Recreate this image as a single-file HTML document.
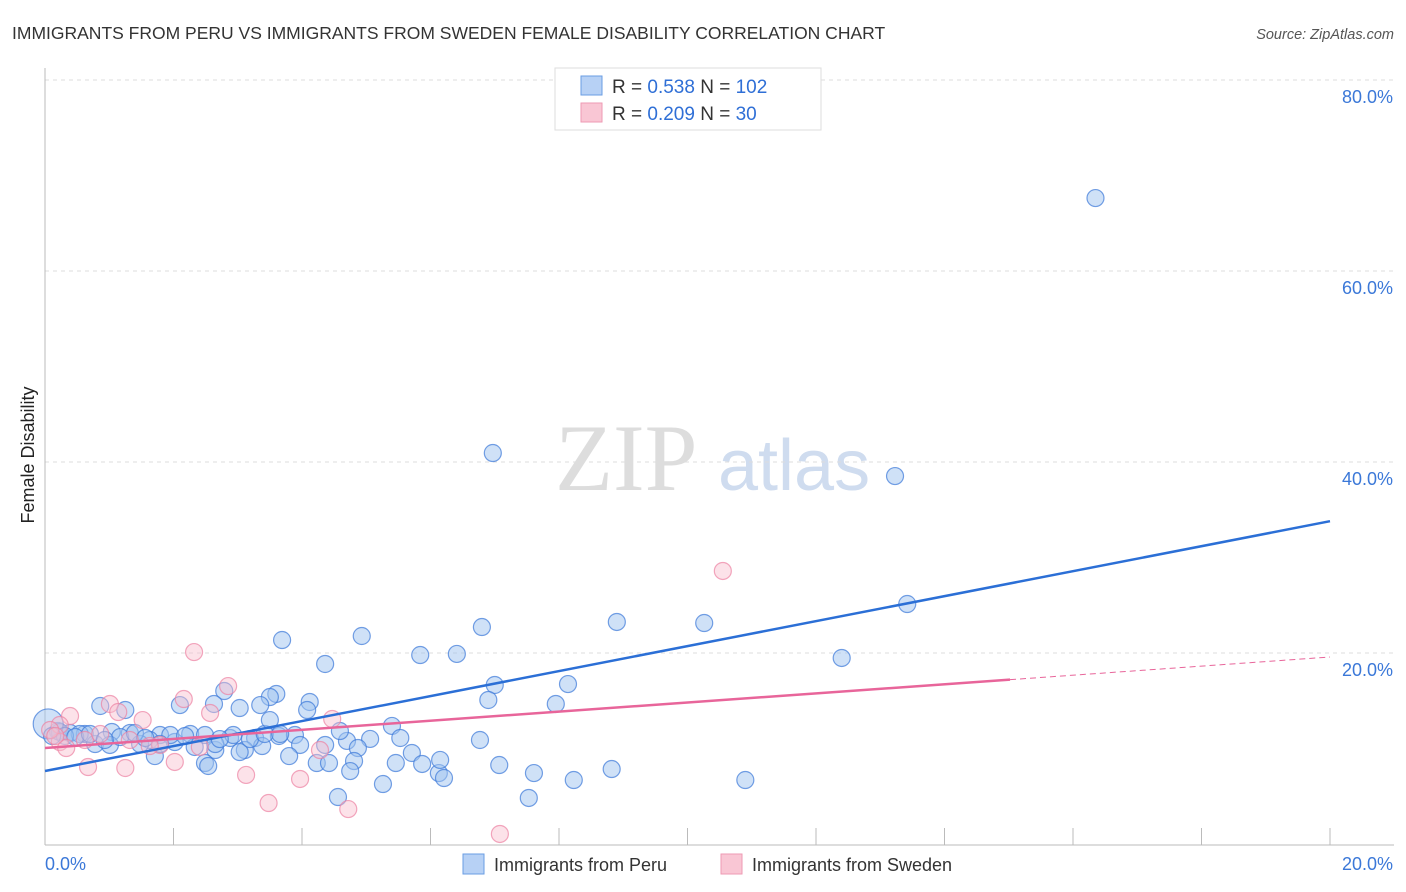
<!DOCTYPE html>
<html><head><meta charset="utf-8"><style>
body{margin:0;background:#fff;font-family:"Liberation Sans",sans-serif;}
#wrap{position:relative;width:1406px;height:892px;overflow:hidden;}
</style></head><body>
<div id="wrap">
<svg id="svg" width="1406" height="892" xmlns="http://www.w3.org/2000/svg">
<text x="12" y="39" font-size="17.5" fill="#333">IMMIGRANTS FROM PERU VS IMMIGRANTS FROM SWEDEN FEMALE DISABILITY CORRELATION CHART</text>
<text x="1394" y="39" font-size="14.5" fill="#555" font-style="italic" text-anchor="end">Source: ZipAtlas.com</text>
<text x="555" y="490" font-size="95" fill="#ddd" font-family="Liberation Serif,serif">ZIP</text>
<text x="718" y="490" font-size="72" fill="#cfdcef">atlas</text>
<text transform="translate(34,455) rotate(-90)" font-size="18" fill="#222" text-anchor="middle">Female Disability</text>
<g id="grid"></g><g id="pts"></g><g id="lines"></g>
<g>
<rect x="555" y="68" width="266" height="62" fill="#fff" stroke="#ddd"/>
<rect x="581" y="76" width="21" height="19" fill="#b7d1f5" stroke="#6a9de3"/>
<rect x="581" y="103" width="21" height="19" fill="#f9c6d4" stroke="#ee9ab3"/>
<text x="612" y="93" font-size="19" fill="#333">R = <tspan fill="#2f6fd6">0.538</tspan>   N = <tspan fill="#2f6fd6">102</tspan></text>
<text x="612" y="120" font-size="19" fill="#333">R = <tspan fill="#2f6fd6">0.209</tspan>   N = <tspan fill="#2f6fd6">  30</tspan></text>
</g>
<g>
<rect x="463" y="854" width="21" height="20" fill="#b7d1f5" stroke="#6a9de3"/>
<text x="494" y="871" font-size="18" fill="#333">Immigrants from Peru</text>
<rect x="721" y="854" width="21" height="20" fill="#f9c6d4" stroke="#ee9ab3"/>
<text x="752" y="871" font-size="18" fill="#333">Immigrants from Sweden</text>
</g>
<text x="45" y="870" font-size="18" fill="#3b78d8">0.0%</text>
<text x="1393" y="870" font-size="18" fill="#3b78d8" text-anchor="end">20.0%</text>
</svg></div>
<script>
const yTicks=[20,40,60,80];
const peruX=[16.35,6.97,13.23,13.42,8.9,10.26,6.8,12.4,3.69,4.93,5.84,6.41,4.36,7.0,8.14,3.64,7.95,6.9,3.6,2.79,4.12,3.5,2.1,2.63,0.86,1.25,3.03,3.35,5.4,4.08,6.77,5.06,5.53,4.7,0.2,0.39,0.62,1.04,1.32,1.79,2.26,2.49,2.88,3.27,3.89,1.63,2.02,2.33,2.65,3.11,3.38,3.97,3.03,4.87,5.71,1.48,0.78,1.01,1.17,1.71,2.49,3.8,4.23,4.42,4.81,5.46,5.87,7.07,7.61,8.82,6.13,6.21,4.75,8.23,10.9,5.26,7.53,4.56,2.54,0.54,0.23,0.05,0.31,0.47,0.7,0.11,1.95,2.18,1.4,0.93,1.79,3.19,3.42,4.36,3.5,2.93,2.65,1.56,6.15,2.72,3.66,4.59];
const peruY=[67.64,40.94,38.53,25.13,23.25,23.14,22.72,19.48,21.36,21.78,19.79,19.9,18.85,16.65,16.75,11.31,14.66,15.08,15.71,16.02,14.87,15.39,14.55,14.66,14.45,14.03,14.24,14.55,12.36,14.03,10.89,11.0,11.1,10.79,11.83,11.62,11.52,11.73,11.62,11.41,11.52,11.41,11.1,11.1,11.41,10.89,10.68,10.16,9.84,9.84,10.26,10.37,9.63,10.05,9.53,10.47,10.47,10.37,11.2,9.21,8.48,9.21,8.48,8.48,8.69,8.48,8.38,8.27,7.43,7.85,7.43,6.91,7.64,6.7,6.7,6.28,4.82,4.92,8.17,11.52,11.73,12.57,11.31,11.2,11.52,11.31,11.41,11.31,11.62,10.89,10.47,10.99,11.52,10.37,12.98,11.41,10.47,11.1,8.8,10.99,11.52,11.83];
const swX=[10.55,2.32,2.85,2.16,1.01,1.14,2.57,1.52,4.47,0.39,0.23,1.32,1.79,4.28,0.23,0.33,0.67,1.25,2.02,3.13,3.97,3.48,4.72,7.08,0.08,0.62,2.41,1.63,0.16,0.86];
const swY=[28.59,20.10,16.54,15.18,14.66,13.82,13.72,12.98,13.09,13.40,12.46,10.89,10.37,9.84,10.68,10.05,8.06,7.96,8.59,7.23,6.81,4.29,3.66,1.05,11.94,10.89,10.16,10.26,11.31,11.52];
const peruLine=[7.64,33.8];  // y at x=0 and x=20
const swLine=[10.05,19.58], swSolidEnd=15.02;
const NS="http://www.w3.org/2000/svg";
const X=v=>45+v*64.25, Y=v=>844-v*9.55;
function mk(t,a,p){const e=document.createElementNS(NS,t);for(const k in a)e.setAttribute(k,a[k]);p.appendChild(e);return e;}
const svg=document.getElementById('svg');
const grid=document.getElementById('grid');
for(const t of yTicks){
 const l=mk('line',{x1:45,x2:1394,y1:Y(t),y2:Y(t),stroke:'#ddd','stroke-dasharray':'4,4'},grid);
 
 
 const tx=mk('text',{x:1393,y:Y(t)+23,'font-size':18,fill:'#3b78d8','text-anchor':'end'},grid);
 tx.textContent=t.toFixed(1)+'%';
 
 
}
const ax=mk('line',{x1:45,x2:45,y1:68,y2:845,stroke:'#bbb'},grid);


const bx=mk('line',{x1:45,x2:1394,y1:845,y2:845,stroke:'#bbb'},grid);


for(let i=0;i<=10;i++){
 const t=mk('line',{x1:X(i*2),x2:X(i*2),y1:828,y2:845,stroke:'#bbb'},grid);
 
 
}
const pts=document.getElementById('pts');
peruX.forEach((x,i)=>{
 const c=mk('circle',{cx:X(x),cy:Y(peruY[i]),r:(i==81?15:8.5),fill:'rgba(160,196,240,0.5)',stroke:'rgba(58,120,216,0.7)','stroke-width':1.2},pts);
 
 
});
swX.forEach((x,i)=>{
 const c=mk('circle',{cx:X(x),cy:Y(swY[i]),r:8.5,fill:'rgba(248,190,206,0.45)',stroke:'rgba(236,130,162,0.7)','stroke-width':1.2},pts);
 
 
});
const lines=document.getElementById('lines');
const pl=mk('line',{x1:X(0),y1:Y(peruLine[0]),x2:X(20),y2:Y(peruLine[1]),stroke:'#2b6fd6','stroke-width':2.5},lines);


const sy=v=>swLine[0]+(swLine[1]-swLine[0])*v/20;
const sl=mk('line',{x1:X(0),y1:Y(sy(0)),x2:X(swSolidEnd),y2:Y(sy(swSolidEnd)),stroke:'#e8659a','stroke-width':2.5},lines);


const sd=mk('line',{x1:X(swSolidEnd),y1:Y(sy(swSolidEnd)),x2:X(20),y2:Y(sy(20)),stroke:'#e8659a','stroke-width':1,'stroke-dasharray':'6,4'},lines);


</script>
</body></html>
